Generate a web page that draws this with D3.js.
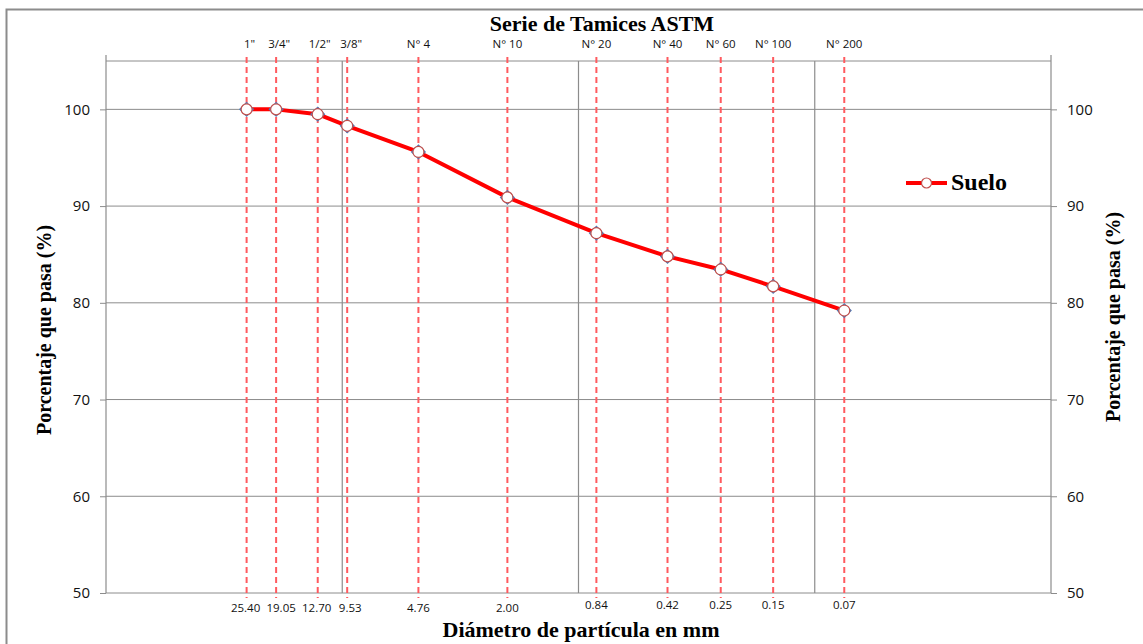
<!DOCTYPE html>
<html>
<head>
<meta charset="utf-8">
<script src="https://cdn.jsdelivr.net/npm/d3@7"></script>
<style>
  body { margin: 0; background: #fff; }
  .tick text { font-family: "Open Sans", sans-serif; fill: #111; }
  .serif { font-family: "Liberation Serif", "Times New Roman", serif; font-weight: bold; fill: #000; }
</style>
</head>
<body>
<svg id="chart" width="1143" height="644"></svg>
<script>
const sieves = ['1"', '3/4"', '1/2"', '3/8"', 'N° 4', 'N° 10', 'N° 20', 'N° 40', 'N° 60', 'N° 100', 'N° 200'];
const diameters = [25.40, 19.05, 12.70, 9.53, 4.76, 2.00, 0.84, 0.42, 0.25, 0.15, 0.075];
const diameterLabels = ['25.40', '19.05', '12.70', '9.53', '4.76', '2.00', '0.84', '0.42', '0.25', '0.15', '0.07'];
const passing = [100, 100, 99.5, 98.3, 95.6, 90.9, 87.2, 84.8, 83.45, 81.7, 79.2];
const yTicks = [50, 60, 70, 80, 90, 100];
const decades = [10, 1, 0.1];

const margin = { left: 106, right: 92, top: 61, bottom: 51 };
const chartSize = { width: 1143, height: 644 };
const width = chartSize.width - margin.left - margin.right;
const height = chartSize.height - margin.top - margin.bottom;

const svg = d3.select('#chart');

// outer chart frame
svg.append('path')
  .attr('d', 'M6.5,650 V9.5 H1150')
  .attr('fill', 'none')
  .attr('stroke', '#8c8c8c')
  .attr('stroke-width', 2);

const g = svg.append('g')
  .attr('transform', `translate(${margin.left},${margin.top})`);

const x = d3.scaleLog()
  .domain([100, 0.01])
  .range([0, width]);

const y = d3.scaleLinear()
  .domain([50, 105])
  .range([height, 0]);

// horizontal gridlines
g.selectAll('.hgrid')
  .data(yTicks)
  .enter().append('line')
  .attr('x1', 0).attr('x2', width)
  .attr('y1', d => y(d)).attr('y2', d => y(d))
  .attr('stroke', '#8c8c8c').attr('stroke-width', 1);

g.append('line')
  .attr('x1', 0).attr('x2', width)
  .attr('y1', 0).attr('y2', 0)
  .attr('stroke', '#8c8c8c');

// decade gridlines
g.selectAll('.vgrid')
  .data(decades)
  .enter().append('line')
  .attr('x1', d => x(d)).attr('x2', d => x(d))
  .attr('y1', 0).attr('y2', height)
  .attr('stroke', '#8c8c8c').attr('stroke-width', 1.2);

// y axes
const yAxisL = d3.axisLeft(y).tickValues(yTicks).tickSize(6).tickPadding(10);
const yAxisR = d3.axisRight(y).tickValues(yTicks).tickSize(6).tickPadding(10);

[['left', yAxisL, 0], ['right', yAxisR, width]].forEach(([k, ax, tx]) => {
  const a = g.append('g')
    .attr('class', 'y-axis ' + k)
    .attr('transform', `translate(${tx},0)`)
    .call(ax);
  a.select('.domain').remove();
  a.selectAll('.tick line').attr('stroke', '#8c8c8c');
  a.selectAll('.tick text').attr('font-size', 15);
  a.append('line')
    .attr('x1', 0).attr('x2', 0)
    .attr('y1', -6).attr('y2', height)
    .attr('stroke', '#8c8c8c').attr('stroke-width', 1.2);
});

// sieve dashed lines
g.selectAll('.sieve')
  .data(diameters)
  .enter().append('line')
  .attr('x1', d => x(d)).attr('x2', d => x(d))
  .attr('y1', -4).attr('y2', height + 5)
  .attr('stroke', '#ff5a5f')
  .attr('stroke-width', 2)
  .attr('stroke-dasharray', '6,4');

// small nudges so the crowded inch labels don't overlap
const topShift = [3, 3, 2, 4, 0, 0, 0, 0, 0, 0, 0];
const bottomShift = [-1, 5, -1, 3, 0, 0, 0, 0, 0, 0, 0];

g.selectAll('.sieve-label')
  .data(sieves)
  .enter().append('text')
  .attr('x', (d, i) => x(diameters[i]) + topShift[i])
  .attr('y', -13)
  .attr('text-anchor', 'middle')
  .attr('font-family', '"Open Sans", sans-serif')
  .attr('font-size', 11.5)
  .attr('fill', '#111')
  .text(d => d);

g.selectAll('.diam-label')
  .data(diameterLabels)
  .enter().append('text')
  .attr('x', (d, i) => x(diameters[i]) + bottomShift[i])
  .attr('y', (d, i) => height + (diameters[i] < 1 ? 16 : 19))
  .attr('text-anchor', 'middle')
  .attr('font-family', '"Open Sans", sans-serif')
  .attr('font-size', 11.5)
  .attr('fill', '#111')
  .text(d => d);

// series
const pts = diameters.map((d, i) => ({ d, v: passing[i] }));

g.append('path')
  .datum(pts)
  .attr('fill', 'none')
  .attr('stroke', '#ff0000')
  .attr('stroke-width', 4)
  .attr('stroke-linejoin', 'round')
  .attr('d', d3.line().x(p => x(p.d)).y(p => y(p.v)));

g.selectAll('.diamond')
  .data(pts)
  .enter().append('path')
  .attr('transform', p => `translate(${x(p.d)},${y(p.v)})`)
  .attr('d', d3.symbol(d3.symbolDiamond2, 110))
  .attr('fill', 'none')
  .attr('stroke', '#4a7ebb')
  .attr('stroke-width', 1.5);

g.selectAll('.marker')
  .data(pts)
  .enter().append('circle')
  .attr('cx', p => x(p.d))
  .attr('cy', p => y(p.v))
  .attr('r', 5.5)
  .attr('fill', '#fff')
  .attr('stroke', '#c0504d')
  .attr('stroke-width', 1.2);

// legend
const lg = svg.append('g').attr('transform', 'translate(906,183)');
lg.append('line').attr('x1', 0).attr('x2', 41).attr('y1', 0).attr('y2', 0)
  .attr('stroke', '#ff0000').attr('stroke-width', 4);
lg.append('circle').attr('cx', 20.5).attr('cy', 0).attr('r', 5)
  .attr('fill', '#fff').attr('stroke', '#c0504d').attr('stroke-width', 1.2);
lg.append('text').attr('class', 'serif')
  .attr('x', 45).attr('y', 7)
  .attr('font-size', 24)
  .text('Suelo');

// titles
svg.append('text').attr('class', 'serif')
  .attr('x', 602).attr('y', 31)
  .attr('text-anchor', 'middle')
  .attr('font-size', 22)
  .text('Serie de Tamices ASTM');

svg.append('text').attr('class', 'serif')
  .attr('x', 581).attr('y', 637)
  .attr('text-anchor', 'middle')
  .attr('font-size', 22)
  .text('Diámetro de partícula en mm');

svg.append('text').attr('class', 'serif')
  .attr('transform', 'translate(51,330) rotate(-90)')
  .attr('text-anchor', 'middle')
  .attr('font-size', 20)
  .text('Porcentaje que pasa (%)');

svg.append('text').attr('class', 'serif')
  .attr('transform', 'translate(1120,317) rotate(-90)')
  .attr('text-anchor', 'middle')
  .attr('font-size', 20)
  .text('Porcentaje que pasa (%)');
</script>
</body>
</html>
